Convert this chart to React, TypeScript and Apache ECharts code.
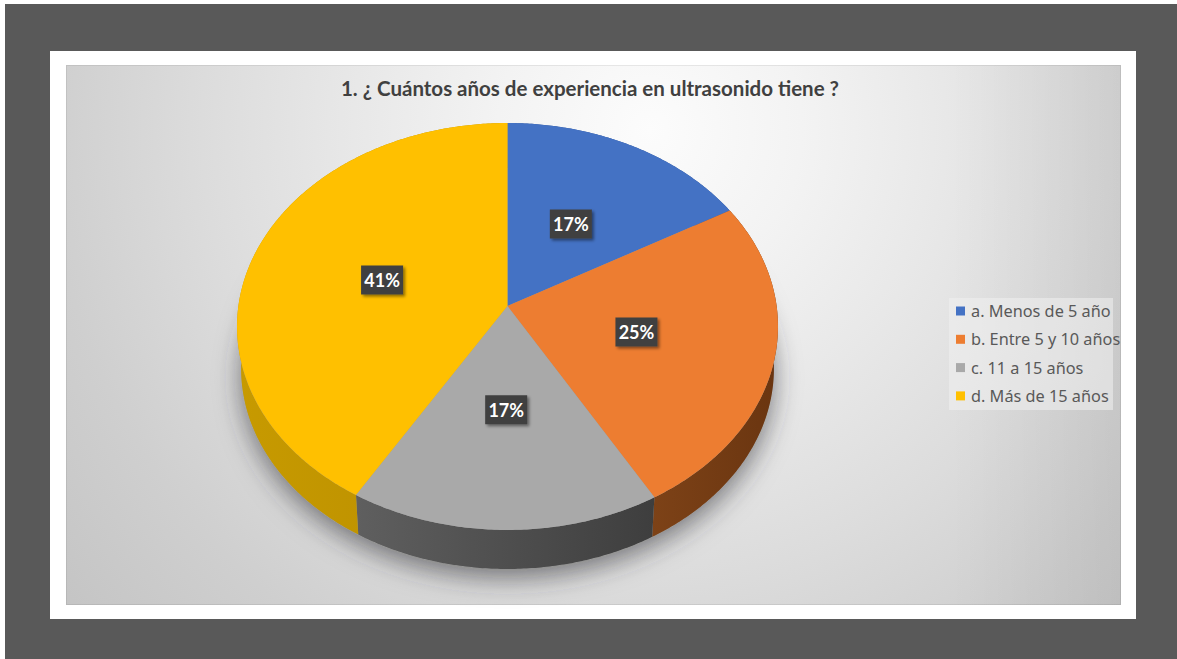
import React, { useEffect, useRef } from "react";
import * as echarts from "echarts";

const chartTitle = "1. ¿ Cuántos años de experiencia en ultrasonido tiene ?";
const categories = ["a. Menos de 5 año", "b. Entre 5 y 10 años", "c. 11 a 15 años", "d. Más de 15 años"];
const values = [16.7, 25, 16.9, 41.4];
const topColors = ["#4472c4", "#ed7d31", "#a9a9a9", "#ffc000"];
const rimFrom = ["#2f5597", "#7d4217", "#5f5f5f", "#c79a00"];
const rimTo = ["#2f5597", "#6a3510", "#3e3e3e", "#b88d00"];

// perspective model of the disc
const CX = 507.5, CY = 306, A = 201.4, B = 269.1, K = 0.1007, RIM_S = 0.985, RIM_DY = 42.4;
const total = values.reduce((a, b) => a + b, 0);
const bounds: number[] = [];
values.reduce((acc, v) => { bounds.push(acc); return acc + v; }, 0);

function proj(theta: number, r = 1): [number, number] {
  const u = Math.sin(theta) * r, v = -Math.cos(theta) * r, d = 1 - K * v;
  return [CX + (B * u) / d, CY + (A * v) / d];
}
function low(p: [number, number]): [number, number] {
  return [CX + (p[0] - CX) * RIM_S, CY + RIM_DY + (p[1] - CY) * RIM_S];
}
function arc(a0: number, a1: number) {
  const n = Math.max(4, Math.ceil((a1 - a0) / 0.01));
  const pts: [number, number][] = [];
  for (let i = 0; i <= n; i++) pts.push(proj(a0 + ((a1 - a0) * i) / n));
  return pts;
}
const toRad = (pct: number) => (pct / total) * Math.PI * 2;

export default function App() {
  const ref = useRef<HTMLDivElement>(null);
  useEffect(() => {
    const chart = echarts.init(ref.current!, undefined, { renderer: "svg" });
    const shadowSeries = {
      type: "custom", coordinateSystem: "none", silent: true, z: 1, data: [[0, total]],
      renderItem: () => ({
        type: "polygon", shape: { points: arc(0, Math.PI * 2).map(low) },
        style: { fill: "#999", shadowColor: "rgba(50,50,55,0.6)", shadowBlur: 26, shadowOffsetY: 9 },
      }),
    };
    const rimSeries = {
      type: "custom", coordinateSystem: "none", silent: true, z: 2,
      data: values.map((v, i) => [bounds[i], v, i]),
      renderItem: (_: any, api: any) => {
        const s = api.value(0), v = api.value(1), i = api.value(2);
        const top = arc(toRad(s), toRad(s + v));
        const pts = [...top, ...top.slice().reverse().map(low)];
        return {
          type: "polygon", shape: { points: pts },
          style: { fill: new echarts.graphic.LinearGradient(0, 0, 1, 0, [
            { offset: 0, color: rimFrom[i] }, { offset: 1, color: rimTo[i] } ]) },
        };
      },
    };
    const sliceSeries = categories.map((name, i) => ({
      type: "custom", name, coordinateSystem: "none", silent: true, z: 3,
      itemStyle: { color: topColors[i] },
      data: [[bounds[i], values[i]]],
      renderItem: (_: any, api: any) => {
        const s = api.value(0), v = api.value(1);
        return {
          type: "polygon", shape: { points: [[CX, CY], ...arc(toRad(s), toRad(s + v))] },
          style: { fill: topColors[i] },
        };
      },
    }));
    const labelSeries = {
      type: "custom", coordinateSystem: "none", silent: true, z: 5,
      data: values.map((v, i) => [bounds[i], v]),
      renderItem: (_: any, api: any) => {
        const s = api.value(0), v = api.value(1);
        const [x, y] = proj(toRad(s + v / 2), 0.49);
        return {
          type: "group",
          children: [
            { type: "rect", shape: { x: x - 21, y: y - 14.5, width: 42, height: 29 },
              style: { fill: "#404040", shadowColor: "rgba(0,0,0,0.45)", shadowBlur: 3, shadowOffsetX: 2, shadowOffsetY: 2 } },
            { type: "text", x, y, style: { text: Math.round(v) + "%", fill: "#fff", font: "bold 18px Lato", align: "center", verticalAlign: "middle" } },
          ],
        };
      },
    };
    chart.setOption({
      animation: false,
      backgroundColor: "#fff",
      title: { text: chartTitle, left: 585, top: 72, textAlign: "center", textStyle: { color: "#404040", fontFamily: "Lato", fontWeight: "bold", fontSize: 20.5 } },
      legend: {
        data: categories, orient: "vertical", left: 951, top: 298, icon: "rect", itemWidth: 9, itemHeight: 9, itemGap: 12.3,
        itemStyle: { borderWidth: 0 }, selectedMode: false,
        textStyle: { color: "#595959", fontFamily: "Noto Sans", fontSize: 16.3, padding: [0, 0, 0, 1] },
      },
      graphic: [
        { type: "rect", z: -5, shape: { x: 5, y: 4, width: 1172, height: 655 }, style: { fill: "#595959" } },
        { type: "rect", z: -4, shape: { x: 50, y: 51, width: 1086, height: 568 }, style: { fill: "#fff" } },
        { type: "rect", z: -3, shape: { x: 66, y: 65, width: 1055, height: 540 }, style: { fill: new echarts.graphic.RadialGradient(650, 130, 760, [
          { offset: 0, color: "#fcfcfc" }, { offset: 0.2, color: "#f3f3f3" }, { offset: 0.39, color: "#e8e8e8" },
          { offset: 0.59, color: "#dcdcdc" }, { offset: 0.79, color: "#cfcfcf" }, { offset: 1, color: "#c4c4c4" } ], true) } },
        { type: "rect", z: -2, shape: { x: 950, y: 65, width: 171, height: 540 }, style: { fill: new echarts.graphic.LinearGradient(0, 0, 1, 0, [
          { offset: 0, color: "rgba(0,0,0,0)" }, { offset: 1, color: "rgba(0,0,0,0.06)" } ]) } },
        { type: "rect", z: -1, shape: { x: 66.5, y: 65.5, width: 1054, height: 539 }, style: { fill: "none", stroke: "rgba(0,0,0,0.07)", lineWidth: 1 } },
        { type: "rect", z: 0, shape: { x: 949, y: 298, width: 164, height: 112 }, style: { fill: "rgba(240,240,240,0.55)" } },
      ],
      series: [shadowSeries, rimSeries, ...sliceSeries, labelSeries],
    });
    return () => chart.dispose();
  }, []);
  return <div ref={ref} style={{ position: "fixed", left: 0, top: 0, width: 1177, height: 659 }} />;
}
